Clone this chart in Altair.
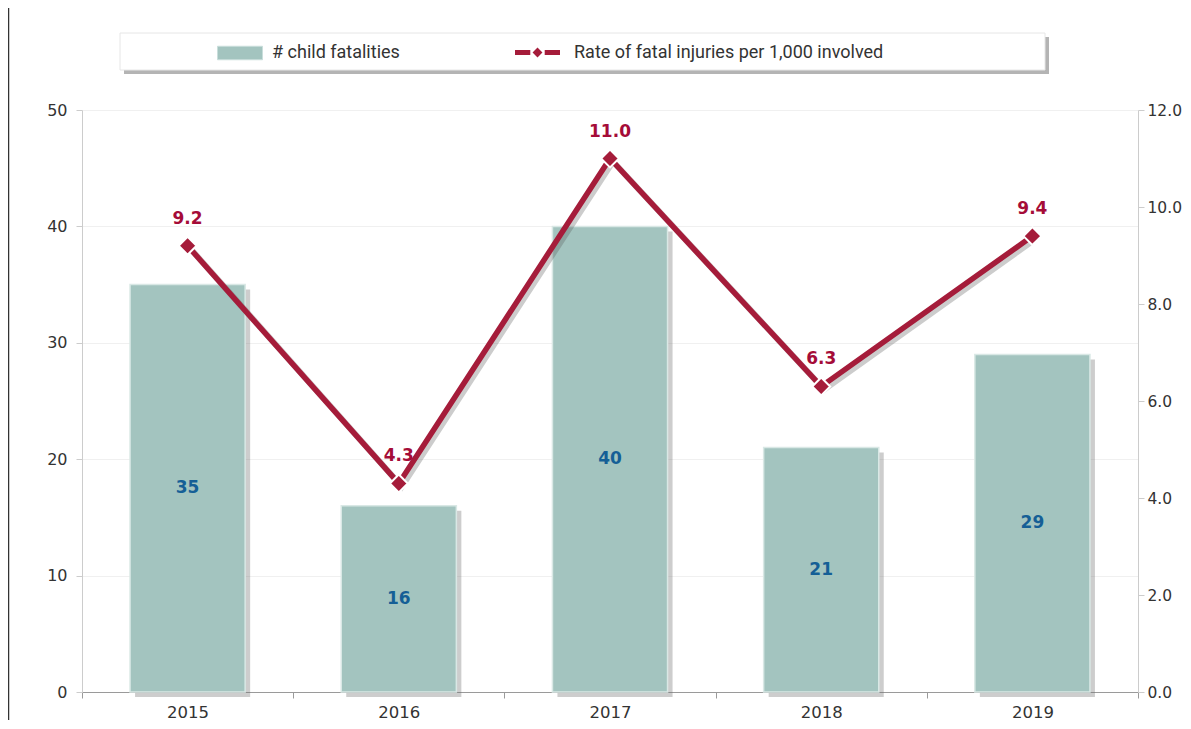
import altair as alt
import pandas as pd

years = ["2015", "2016", "2017", "2018", "2019"]
fatalities = [35, 16, 40, 21, 29]
rates = [9.2, 4.3, 11.0, 6.3, 9.4]
bar_name = "# child fatalities"
line_name = "Rate of fatal injuries per 1,000 involved"

df = pd.DataFrame({"year": years, "fatalities": fatalities, "rate": rates,
                   "s1": bar_name, "s2": line_name})
one = pd.DataFrame({"a": [0]})

W, H = 1056, 582
TEAL = "#a3c4bf"
RED = "#a51c3a"
RED_TXT = "#a50c38"
BLUE_TXT = "#155f96"

xenc = alt.X("year:N", title=None, sort=years,
             scale=alt.Scale(paddingInner=0, paddingOuter=0),
             axis=alt.Axis(labelAngle=0, tickBand="extent", domainColor="#9a9a9a",
                           tickColor="#9a9a9a", tickSize=6, labelPadding=6,
                           labelFontSize=16.5, grid=False))
yl_scale = alt.Scale(domain=[0, 50], nice=False)
yr_scale = alt.Scale(domain=[0, 12], nice=False)
yl_axis = alt.Axis(values=[0, 10, 20, 30, 40, 50], grid=True, tickSize=6, title=None,
                   labelPadding=9, domainColor="#cccccc", tickColor="#cccccc")
yr_axis = alt.Axis(orient="right", values=[0, 2, 4, 6, 8, 10, 12], format=".1f",
                   grid=False, tickSize=6, labelPadding=3, title=None, labelFontSize=15.5,
                   domainColor="#cccccc", tickColor="#cccccc")

base = alt.Chart(df)

bar_shadow = base.mark_bar(width={"band": 0.545}, color="#6f6f6f", opacity=0.35,
                           xOffset=5, yOffset=5, y2Offset=-5).encode(
    x=xenc, y=alt.Y("fatalities:Q", scale=yl_scale, axis=yl_axis, title=None))

bars = base.mark_bar(width={"band": 0.545}, stroke="#d9e8e5", strokeWidth=1.5).encode(
    x=xenc,
    y=alt.Y("fatalities:Q", scale=yl_scale, title=None, axis=yl_axis),
    fill=alt.Fill("s1:N", scale=alt.Scale(domain=[bar_name], range=[TEAL]),
                  legend=alt.Legend(title=None, orient="none", legendX=135, legendY=-80,
                                    symbolType="M-1,-0.3H1V0.3H-1Z", symbolSize=2025,
                                    symbolStrokeColor="#c9dedb", symbolStrokeWidth=1,
                                    labelFont="Roboto", labelFontSize=18,
                                    labelColor="#333333", labelOffset=9, padding=0)),
)

bar_text = base.transform_calculate(mid="datum.fatalities / 2").mark_text(
    font="DejaVu Sans", fontSize=17, fontWeight="bold", color=BLUE_TXT).encode(
    x=xenc, y=alt.Y("mid:Q", scale=yl_scale, axis=yl_axis, title=None),
    text="fatalities:Q")

left = alt.layer(bar_shadow, bars, bar_text)

line_shadow = base.mark_line(color="#555555", opacity=0.3, strokeWidth=6,
                             xOffset=3, yOffset=3).encode(
    x=xenc, y=alt.Y("rate:Q", scale=yr_scale, axis=yr_axis, title=None))

line = base.mark_line(color=RED, strokeWidth=5.5).encode(
    x=xenc, y=alt.Y("rate:Q", scale=yr_scale, title=None, axis=yr_axis))

points = base.mark_point(shape="diamond", filled=True, size=320, stroke="white",
                         strokeWidth=2, opacity=1).encode(
    x=xenc, y=alt.Y("rate:Q", scale=yr_scale, axis=yr_axis, title=None),
    fill=alt.Fill("s2:N", scale=alt.Scale(domain=[line_name], range=[RED]),
                  legend=alt.Legend(title=None, orient="none", legendX=433, legendY=-80,
                                    symbolType="M-1,-0.11H-0.32V0.11H-1Z M0.32,-0.11H1V0.11H0.32Z M0,-0.22L0.22,0L0,0.22L-0.22,0Z",
                                    symbolSize=2025, symbolStrokeWidth=0,
                                    labelFont="Roboto", labelFontSize=18, labelLimit=600,
                                    labelColor="#333333", labelOffset=14, padding=0)),
)

point_text = base.mark_text(font="DejaVu Sans", fontSize=17, fontWeight="bold",
                            color=RED_TXT, dy=-27).encode(
    x=xenc, y=alt.Y("rate:Q", scale=yr_scale, axis=yr_axis, title=None),
    text=alt.Text("rate:Q", format=".1f"))

right = alt.layer(line_shadow, line, points, point_text)

box_shadow = alt.Chart(one).mark_rect(color="#777777", opacity=0.55).encode(
    x=alt.value(42), x2=alt.value(967), y=alt.value(-73), y2=alt.value(-36))
box = alt.Chart(one).mark_rect(color="white", stroke="#e6e6e6", strokeWidth=1).encode(
    x=alt.value(38), x2=alt.value(963), y=alt.value(-77), y2=alt.value(-40))
frame = alt.Chart(one).mark_rule(color="#333333", strokeWidth=1.5).encode(
    x=alt.value(-73.5), y=alt.value(-110), y2=alt.value(H + 40))

chart = alt.layer(box_shadow, box, frame, left, right).resolve_scale(
    y="independent", fill="independent"
).properties(
    width=W, height=H, autosize="none",
    padding={"left": 74, "top": 102, "right": 45, "bottom": 28},
).configure_axis(
    labelFont="DejaVu Sans", labelFontSize=16, labelColor="#333333",
    gridColor="#f0f0f0", gridWidth=1,
).configure_view(stroke=None)

chart.save("out.html", embed_options={"renderer": "svg", "actions": False})
